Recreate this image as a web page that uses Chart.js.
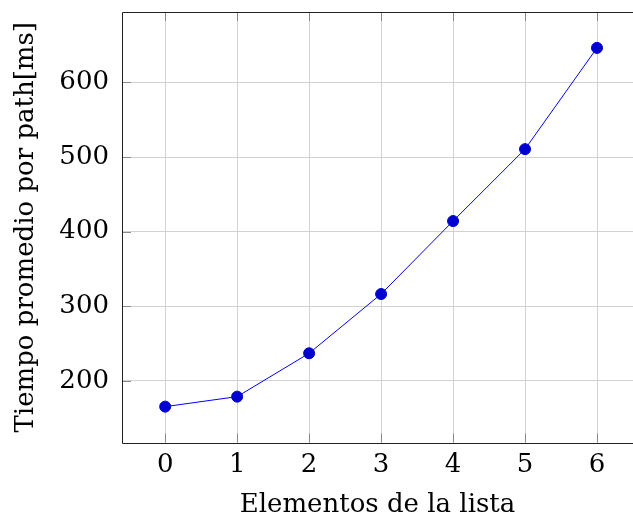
<!DOCTYPE html>
<html>
<head>
<meta charset="utf-8">
<script src="https://cdn.jsdelivr.net/npm/chart.js@4"></script>
<style>
  html, body { margin: 0; padding: 0; background: #fff; overflow: hidden; }
  #chart { display: block; width: 633px; height: 519px; }
</style>
</head>
<body>
<canvas id="chart" width="633" height="519"></canvas>
<script>
// ─── Daten ──────────────────────────────────────────────────────────────────

const elementos = [0, 1, 2, 3, 4, 5, 6];
const tiempos = [165.6, 179.0, 237.1, 316.5, 414.3, 510.7, 646.4];
const xTicks = [0, 1, 2, 3, 4, 5, 6];
const yTicks = [200, 300, 400, 500, 600];

// ─── Achsengrenzen (pgfplots: 10% Rand; rechts im Original abgeschnitten) ──

const xPad = (Math.max(...elementos) - Math.min(...elementos)) * 0.1;
const yPad = (Math.max(...tiempos) - Math.min(...tiempos)) * 0.1;
const xMin = Math.min(...elementos) - xPad;
const xMax = Math.max(...elementos) + 0.5; // Bild endet vor dem rechten Rahmen

// ─── Rahmen + innere Tick-Striche ───────────────────────────────────────────

const boxPlugin = {
  id: 'box',
  beforeDatasetsDraw(chart) {
    const { ctx, chartArea: a, scales } = chart;
    const len = 9;
    ctx.save();
    ctx.lineWidth = 1;
    ctx.strokeStyle = '#8a8a8a';
    ctx.beginPath();
    xTicks.forEach(v => {
      const x = Math.round(scales.x.getPixelForValue(v)) + 0.5;
      ctx.moveTo(x, a.top); ctx.lineTo(x, a.top + len);
      ctx.moveTo(x, a.bottom); ctx.lineTo(x, a.bottom - len);
    });
    yTicks.forEach(v => {
      const y = Math.round(scales.y.getPixelForValue(v)) + 0.5;
      ctx.moveTo(a.left, y); ctx.lineTo(a.left + len, y);
    });
    ctx.stroke();

    // Rahmen: links, oben, unten (rechts liegt außerhalb)
    ctx.strokeStyle = '#222';
    const l = Math.round(a.left) + 0.5, t = Math.round(a.top) + 0.5, b = Math.round(a.bottom) + 0.5;
    ctx.beginPath();
    ctx.moveTo(a.right, t); ctx.lineTo(l, t); ctx.lineTo(l, b); ctx.lineTo(a.right, b);
    ctx.stroke();
    ctx.restore();
  }
};

// ─── Chart ──────────────────────────────────────────────────────────────────

Chart.defaults.font.family = "'DejaVu Serif', serif";
Chart.defaults.color = '#000';

const tickFont = { size: 26, lineHeight: 1 };

new Chart(document.getElementById('chart').getContext('2d'), {
  type: 'line',
  data: {
    datasets: [{
      data: elementos.map((x, i) => ({ x, y: tiempos[i] })),
      borderColor: '#0000ff',
      borderWidth: 1,
      backgroundColor: '#0000d0',
      pointBackgroundColor: '#0000d0',
      pointBorderColor: '#0000d0',
      pointBorderWidth: 1,
      pointRadius: 5.5,
      tension: 0,
      fill: false,
    }],
  },
  options: {
    responsive: false,
    animation: false,
    layout: { autoPadding: false, padding: { top: 12, left: 0, right: 0, bottom: 0 } },
    plugins: { legend: { display: false }, tooltip: { enabled: false } },
    scales: {
      x: {
        type: 'linear',
        min: xMin,
        max: xMax,
        afterBuildTicks: s => { s.ticks = xTicks.map(v => ({ value: v })); },
        afterFit: s => {
          s.height = 76.5;
          s.paddingLeft = 0; s.paddingRight = 0;
        },
        ticks: { font: tickFont, padding: 10, maxRotation: 0 },
        grid: { color: '#d2d2d2', lineWidth: 1, drawTicks: false },
        border: { display: false },
        title: {
          display: true,
          text: 'Elementos de la lista',
          font: { size: 26, lineHeight: 1 },
          padding: { top: 0, bottom: 1 },
        },
      },
      y: {
        type: 'linear',
        min: Math.min(...tiempos) - yPad,
        max: Math.max(...tiempos) + yPad,
        afterBuildTicks: s => { s.ticks = yTicks.map(v => ({ value: v })); },
        afterFit: s => {
          s.width = 122;
          s.paddingTop = 0; s.paddingBottom = 0;
        },
        ticks: { font: tickFont, padding: 13 },
        grid: { color: '#d2d2d2', lineWidth: 1, drawTicks: false },
        border: { display: false },
        title: {
          display: true,
          text: 'Tiempo promedio por path[ms]',
          font: { size: 26, lineHeight: 1 },
          padding: { top: 13, bottom: 0 },
        },
      },
    },
  },
  plugins: [boxPlugin],
});
</script>
</body>
</html>
